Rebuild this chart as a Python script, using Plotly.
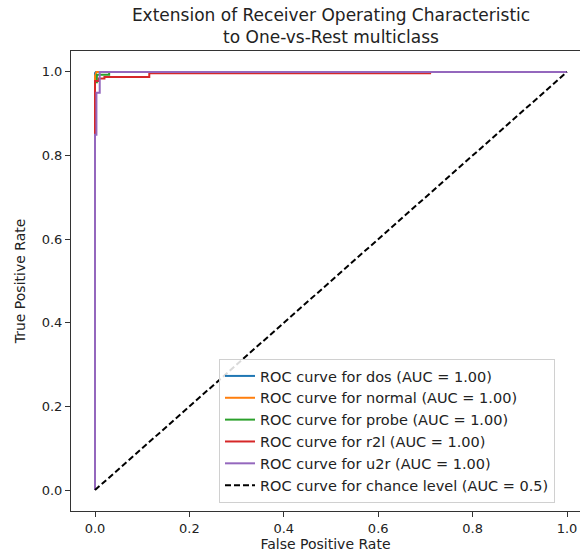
import plotly.graph_objects as go

classes = ["dos", "normal", "probe", "r2l", "u2r"]
colors = ["#1f77b4", "#ff7f0e", "#2ca02c", "#d62728", "#9467bd"]
auc_labels = ["1.00", "1.00", "1.00", "1.00", "1.00"]

fpr_dos = [0.0, 0.0, 0.002, 1.0]
tpr_dos = [0.0, 0.997, 1.0, 1.0]
fpr_normal = [0.0, 0.0, 0.003, 1.0]
tpr_normal = [0.0, 0.99, 1.0, 1.0]
fpr_probe = [0.0, 0.0, 0.004, 0.004, 0.03, 0.03, 1.0]
tpr_probe = [0.0, 0.975, 0.975, 0.993, 0.993, 1.0, 1.0]
fpr_r2l = [0.0, 0.0, 0.008, 0.008, 0.02, 0.02, 0.115, 0.115, 0.71, 0.71, 1.0]
tpr_r2l = [0.0, 0.978, 0.978, 0.984, 0.984, 0.988, 0.988, 0.997, 0.997, 1.0, 1.0]
fpr_u2r = [0.0, 0.0, 0.003, 0.003, 0.01, 0.01, 1.0]
tpr_u2r = [0.0, 0.85, 0.85, 0.95, 0.95, 1.0, 1.0]

fprs = [fpr_dos, fpr_normal, fpr_probe, fpr_r2l, fpr_u2r]
tprs = [tpr_dos, tpr_normal, tpr_probe, tpr_r2l, tpr_u2r]

chance_x = [0.0, 1.0]
chance_y = [0.0, 1.0]

xticks = [0.0, 0.2, 0.4, 0.6, 0.8, 1.0]
yticks = [0.0, 0.2, 0.4, 0.6, 0.8, 1.0]
tick_text = ["0.0", "0.2", "0.4", "0.6", "0.8", "1.0"]

FONT = "DejaVu Sans"
fig = go.Figure()
for c, col, a, fx, ty in zip(classes, colors, auc_labels, fprs, tprs):
    fig.add_trace(go.Scatter(x=fx, y=ty, mode="lines",
                             line=dict(color=col, width=2),
                             name=f"ROC curve for {c} (AUC = {a})"))
fig.add_trace(go.Scatter(x=chance_x, y=chance_y, mode="lines",
                         line=dict(color="black", width=2, dash="6px,3px"),
                         name="ROC curve for chance level (AUC = 0.5)"))

W, H = 580, 554
L, T, B = 71, 51, 43
px_per_unit = 472.0
x0 = -(95 - L) / px_per_unit
x1 = x0 + (W - L) / px_per_unit

fig.update_layout(
    width=W, height=H,
    margin=dict(l=L, r=0, t=T, b=B, pad=0),
    plot_bgcolor="white", paper_bgcolor="white",
    font=dict(family=FONT, size=12, color="#222"),
    title=dict(text="Extension of Receiver Operating Characteristic<br>to One-vs-Rest multiclass",
               x=(331 - L) / (W - L), xref="paper", xanchor="center",
               y=1 - 21 / H, yref="container", yanchor="top",
               font=dict(family=FONT, size=17, color="#222")),
    xaxis=dict(range=[x0, x1], tickvals=xticks, ticktext=tick_text,
               showgrid=False, zeroline=False, showline=True, mirror=True,
               linecolor="#333", linewidth=1, ticks="outside", ticklen=5,
               tickcolor="#333", tickfont=dict(size=13),
               title=dict(text="False Positive Rate", font=dict(size=14), standoff=3)),
    yaxis=dict(range=[-0.05, 1.05], tickvals=yticks, ticktext=tick_text,
               showgrid=False, zeroline=False, showline=True, mirror=False,
               linecolor="#333", linewidth=1, ticks="outside", ticklen=5,
               tickcolor="#333", tickfont=dict(size=13),
               title=dict(text="True Positive Rate", font=dict(size=14), standoff=12)),
    legend=dict(x=(219 - L) / (W - L), xanchor="left", y=(511 - 503) / (511 - T), yanchor="bottom",
                bgcolor="rgba(255,255,255,0.85)", bordercolor="#d0d0d0", borderwidth=1,
                font=dict(size=14.5, color="#222"), tracegroupgap=0),
    showlegend=True,
)

fig.write_html("out.html", config={"displayModeBar": False},
               post_script="document.body.style.margin='0';")
